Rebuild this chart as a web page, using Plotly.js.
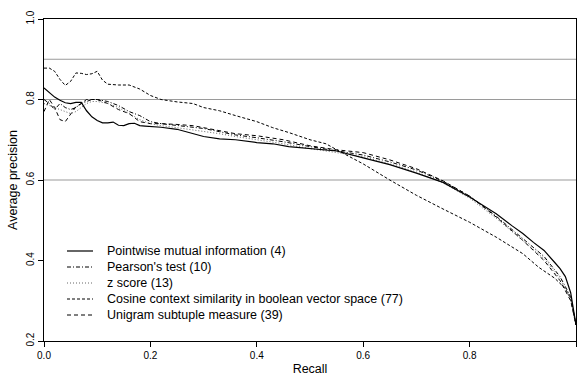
<!DOCTYPE html>
<html>
<head>
<meta charset="utf-8">
<script src="https://cdn.plot.ly/plotly-3.0.1.min.js"></script>
<style>html,body{margin:0;padding:0;background:#fff;}#chart{width:583px;height:376px;}</style>
</head>
<body>
<div id="chart"></div>
<script>
// ---- data ----
const seriesNames = [
  "Pointwise mutual information (4)",
  "Pearson's test (10)",
  "z score (13)",
  "Cosine context similarity in boolean vector space (77)",
  "Unigram subtuple measure (39)"
];

const recallPMI = [0,.01,.02,.03,.04,.05,.06,.07,.08,.09,.1,.11,.12,.13,.14,.15,.16,.17,.18,.19,.2,.22,.25,.28,.3,.33,.36,.4,.43,.46,.5,.55,.6,.65,.7,.75,.8,.85,.88,.9,.92,.94,.96,.97,.98,.99,1.0];
const precPMI   = [.829,.818,.806,.798,.792,.790,.793,.793,.772,.757,.748,.742,.742,.744,.736,.735,.740,.741,.735,.734,.733,.731,.726,.716,.708,.702,.700,.693,.690,.683,.678,.672,.655,.638,.617,.594,.558,.516,.486,.467,.445,.425,.395,.380,.360,.320,.240];

const recallPearson = [0,.01,.02,.03,.04,.05,.06,.07,.08,.09,.1,.12,.14,.16,.18,.2,.22,.25,.28,.3,.33,.36,.4,.45,.5,.55,.6,.65,.7,.75,.8,.85,.9,.94,.97,.99,1.0];
const precPearson   = [.800,.790,.775,.790,.780,.775,.780,.790,.795,.800,.800,.795,.785,.770,.760,.745,.740,.735,.730,.728,.720,.712,.705,.695,.683,.672,.662,.645,.625,.597,.560,.510,.455,.410,.360,.310,.240];

const recallZ = [0,.01,.02,.03,.04,.05,.06,.07,.08,.09,.1,.12,.14,.16,.18,.2,.22,.25,.28,.3,.33,.36,.4,.45,.5,.55,.6,.65,.7,.75,.8,.85,.9,.94,.97,.99,1.0];
const precZ   = [.790,.785,.780,.775,.770,.765,.770,.780,.790,.795,.795,.790,.780,.765,.750,.740,.735,.730,.725,.720,.715,.708,.700,.690,.678,.668,.658,.640,.620,.593,.555,.505,.450,.405,.355,.305,.240];

const recallCosine = [0,.01,.02,.03,.04,.05,.06,.07,.08,.09,.1,.11,.12,.14,.16,.18,.2,.22,.25,.28,.3,.33,.36,.4,.43,.46,.5,.53,.56,.6,.65,.7,.75,.8,.85,.9,.93,.96,.98,.99,1.0];
const precCosine   = [.878,.878,.870,.850,.835,.845,.866,.865,.862,.864,.870,.848,.838,.836,.836,.826,.810,.800,.794,.790,.780,.772,.760,.745,.730,.718,.700,.690,.668,.640,.600,.562,.528,.495,.458,.417,.383,.356,.330,.305,.240];

const recallUnigram = [0,.01,.02,.03,.04,.05,.06,.07,.08,.09,.1,.12,.14,.16,.18,.2,.22,.25,.28,.3,.33,.36,.4,.45,.5,.55,.6,.65,.7,.75,.8,.85,.9,.94,.97,.99,1.0];
const precUnigram   = [.770,.800,.780,.750,.745,.765,.782,.790,.800,.800,.800,.790,.775,.765,.745,.740,.740,.738,.735,.730,.722,.715,.710,.700,.685,.675,.668,.650,.628,.598,.560,.508,.450,.400,.350,.300,.240];

const xTicks = [0, 0.2, 0.4, 0.6, 0.8, 1.0];
const xTickText = ["0.0","0.2","0.4","0.6","0.8","1.0"];
const yTicks = [0.2, 0.4, 0.6, 0.8, 1.0];
const yTickText = ["0.2","0.4","0.6","0.8","1.0"];
const refLines = [0.6, 0.8, 0.9];

// ---- styles ----
const styles = [
  {color:"#000", width:1.2, dash:"solid"},
  {color:"#000", width:1, dash:"4px,2px,1px,2px"},
  {color:"#666", width:1, dash:"1px,2px"},
  {color:"#000", width:1, dash:"3px,2px"},
  {color:"#000", width:1, dash:"4px,3px"}
];
const xs = [recallPMI, recallPearson, recallZ, recallCosine, recallUnigram];
const ys = [precPMI, precPearson, precZ, precCosine, precUnigram];

// draw in order so solid is on top
const order = [3,4,2,1,0];
const traces = order.map(i => ({
  type: "scatter", mode: "lines", x: xs[i], y: ys[i], name: seriesNames[i],
  line: {color: styles[i].color, width: styles[i].width, dash: styles[i].dash},
  showlegend: false, hoverinfo: "skip"
}));

const FONT = "Liberation Sans, Arial, Helvetica, sans-serif";
const L = 44, R = 7, T = 19, B = 35, W = 583, H = 376;
const pw = W - L - R, ph = H - T - B;
const px2x = p => (p - L) / pw;
const py2y = p => (H - B - p) / ph;

const shapes = refLines.map(v => ({
  type: "line", xref: "paper", yref: "y", x0: 0, x1: 1, y0: v, y1: v,
  line: {color: "#9a9a9a", width: 1.2}, layer: "below"
}));

const annotations = [];
const legendRowsPx = [251, 267, 283, 299, 315];
seriesNames.forEach((n, i) => {
  const yy = py2y(legendRowsPx[i]);
  shapes.push({
    type: "line", xref: "paper", yref: "paper",
    x0: px2x(67), x1: px2x(93), y0: yy, y1: yy,
    line: {color: styles[i].color, width: styles[i].width, dash: styles[i].dash}
  });
  annotations.push({
    xref: "paper", yref: "paper", x: px2x(105), y: yy, xanchor: "left", yanchor: "middle",
    text: n, showarrow: false, font: {family: FONT, size: 12.5, color: "#000"}
  });
});

const layout = {
  width: W, height: H,
  margin: {l: L, r: R, t: T, b: B, pad: 0},
  paper_bgcolor: "#fff", plot_bgcolor: "#fff",
  font: {family: FONT, color: "#000"},
  showlegend: false,
  xaxis: {
    range: [0, 1], tickvals: xTicks, ticktext: xTickText,
    ticks: "outside", ticklen: 5, tickwidth: 1, tickcolor: "#000",
    showline: true, linecolor: "#000", linewidth: 1.3, mirror: true,
    showgrid: false, zeroline: false,
    tickfont: {family: FONT, size: 10, color: "#000"},
    title: {text: "Recall", font: {family: FONT, size: 12.5, color: "#000"}, standoff: 6}
  },
  yaxis: {
    range: [0.2, 1.0], tickvals: yTicks, ticktext: yTickText, tickangle: -90,
    ticks: "outside", ticklen: 5, tickwidth: 1, tickcolor: "#000",
    showline: true, linecolor: "#000", linewidth: 1.3, mirror: true,
    showgrid: false, zeroline: false,
    tickfont: {family: FONT, size: 10, color: "#000"},
    title: {text: "Average precision", font: {family: FONT, size: 12.5, color: "#000"}, standoff: 4}
  },
  shapes: shapes,
  annotations: annotations
};

Plotly.newPlot("chart", traces, layout, {staticPlot: true, displayModeBar: false});
</script>
</body>
</html>
